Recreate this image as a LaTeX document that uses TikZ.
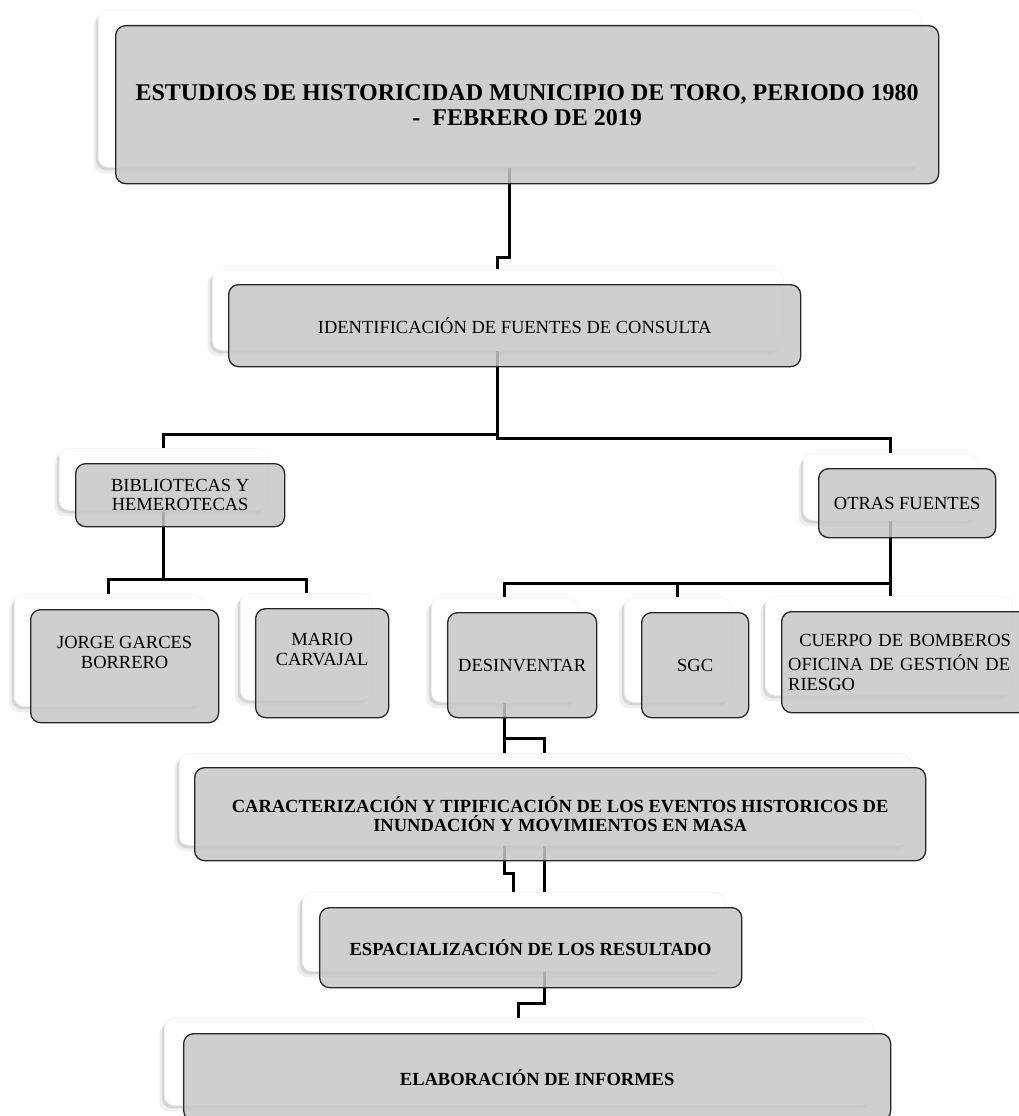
\documentclass[tikz,border=0pt]{standalone}
\usepackage{fontspec}
\setmainfont{Liberation Serif}
\usepackage{tikz}
\usetikzlibrary{positioning,shadows,backgrounds}

\definecolor{grisCaja}{RGB}{199,199,199}

\begin{document}
\begin{tikzpicture}[x=1pt, y=-1pt,
  fondo/.style={rectangle, anchor=north west, fill=white, draw=black!6, line width=.5pt, rounded corners=10pt, inner sep=0pt, drop shadow={shadow xshift=-5pt, shadow yshift=-6pt, opacity=.12}, drop shadow={shadow xshift=-2.5pt, shadow yshift=-3pt, opacity=.22}},
  caja/.style={rectangle, anchor=north west, fill=grisCaja, fill opacity=.85, text opacity=1, draw=black!85, line width=1.3pt, rounded corners=10pt, inner sep=0pt, align=center, font=\fontsize{18.5}{19.5}\selectfont},
  titulo/.style={caja, font=\fontsize{18.5}{19.5}\selectfont\bfseries},
  conector/.style={draw=black, line width=2.6pt}]
  \useasboundingbox (0,0) rectangle (1019,1116);

  % nivel 1
  \node (estudiosF) [fondo, minimum width=823pt, minimum height=157pt] at (98,10) {};
  \node (estudios) [titulo, font=\fontsize{24}{25}\selectfont\bfseries, minimum width=823pt, minimum height=158pt, below right=15pt and 17pt of estudiosF.north west] {ESTUDIOS DE HISTORICIDAD MUNICIPIO DE TORO, PERIODO 1980\\-\ \ FEBRERO DE 2019};

  \node (identF) [fondo, minimum width=571pt, minimum height=81pt] at (212,269) {};
  \node (ident) [caja, minimum width=572pt, minimum height=82pt, below right=15pt and 16pt of identF.north west] {IDENTIFICACIÓN DE FUENTES DE CONSULTA};

  % fuentes
  \node (biblioF) [fondo, minimum width=209pt, minimum height=62pt] at (59,448) {};
  \node (biblio) [caja, minimum width=209pt, minimum height=63pt, below right=15pt and 16pt of biblioF.north west] {BIBLIOTECAS Y\\HEMEROTECAS};

  \node (otrasF) [fondo, minimum width=175pt, minimum height=67pt] at (803,453) {};
  \node (otras) [caja, minimum width=177pt, minimum height=69pt, below right=15pt and 15pt of otrasF.north west] {OTRAS FUENTES};

  \node (jorgeF) [fondo, minimum width=188pt, minimum height=112pt] at (14,594) {};
  \node (jorge) [caja, minimum width=188pt, minimum height=113pt, below right=15pt and 16pt of jorgeF.north west] {JORGE GARCES\\BORRERO\\[8pt]\mbox{}};

  \node (marioF) [fondo, minimum width=132pt, minimum height=107pt] at (240,593) {};
  \node (mario) [caja, minimum width=133pt, minimum height=109pt, below right=15pt and 15pt of marioF.north west] {MARIO\\CARVAJAL\\[8pt]\mbox{}};

  \node (desinvF) [fondo, minimum width=147pt, minimum height=105pt] at (431,597) {};
  \node (desinv) [caja, minimum width=149pt, minimum height=105pt, below right=15pt and 16pt of desinvF.north west] {DESINVENTAR};

  \node (sgcF) [fondo, minimum width=107pt, minimum height=105pt] at (624,597) {};
  \node (sgc) [caja, minimum width=107pt, minimum height=105pt, below right=15pt and 17pt of sgcF.north west] {SGC};

  \node (cuerpoF) [fondo, minimum width=247pt, minimum height=99pt] at (765,596) {};
  \node (cuerpo) [caja, align=left, text width=234pt, minimum width=247pt, minimum height=101pt, below right=15pt and 16pt of cuerpoF.north west] {{\centering CUERPO DE BOMBEROS\par}\vspace{5pt}OFICINA DE GESTIÓN DE\\RIESGO};

  % resultados
  \node (caractF) [fondo, minimum width=731pt, minimum height=92pt] at (179,753) {};
  \node (caract) [titulo, minimum width=731pt, minimum height=93pt, below right=14pt and 15pt of caractF.north west] {CARACTERIZACIÓN Y TIPIFICACIÓN DE LOS EVENTOS HISTORICOS DE\\INUNDACIÓN Y MOVIMIENTOS EN MASA};

  \node (espacF) [fondo, minimum width=423pt, minimum height=79pt] at (302,892) {};
  \node (espac) [titulo, minimum width=422pt, minimum height=80pt, below right=15pt and 17pt of espacF.north west] {ESPACIALIZACIÓN DE LOS RESULTADO};

  \node (elabF) [fondo, minimum width=709pt, minimum height=87pt] at (164,1018) {};
  \node (elab) [titulo, minimum width=707pt, minimum height=87pt, below right=15pt and 19pt of elabF.north west] {ELABORACIÓN DE INFORMES};

  \begin{scope}[on background layer]
    \fill[white] (0,0) rectangle (1019,1116);
    \draw[conector] (estudiosF.south) -- ++(0,90) -| (identF.north);
    \draw[conector] (identF.south) -- ++(0,84) -| (biblioF.north);
    \draw[conector] (identF.south) -- ++(0,88) -| (otrasF.north);
    \draw[conector] (biblioF.south) -- ++(0,69) -| (jorgeF.north);
    \draw[conector] (biblioF.south) -- ++(0,69) -| (marioF.north);
    \draw[conector] (otrasF.south) -- ++(0,63) -| (desinvF.north);
    \draw[conector] (otrasF.south) -- ++(0,63) -| (sgcF.north);
    \draw[conector] (otrasF.south) -- (otrasF.south |- cuerpoF.north);
    \draw[conector] (desinvF.south) -- ++(0,171) -| (espacF.north);
    \draw[conector] (desinvF.south) -- ++(0,36) -| (caractF.north);
    \draw[conector] (caractF.south) -- ++(0,158) -| (elabF.north);
  \end{scope}
\end{tikzpicture}
\end{document}
